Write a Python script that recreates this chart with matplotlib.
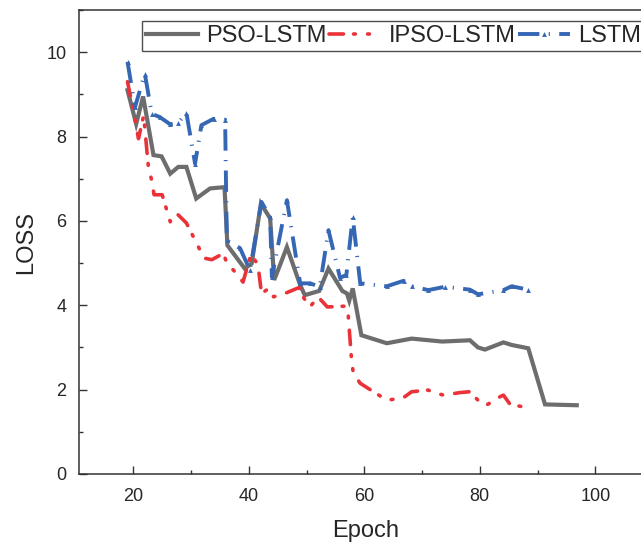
import matplotlib
matplotlib.use("Agg")
import matplotlib.pyplot as plt
from matplotlib.ticker import MultipleLocator

plt.rcParams['font.family'] = ['Liberation Sans', 'DejaVu Sans']

# ---- data ----
pso_epoch = [19.0, 20.5, 21.7, 23.5, 24.9, 26.4, 27.8, 29.2, 30.9, 33.3, 35.8, 36.3,
             39.3, 40.5, 42.1, 43.7, 44.4, 45.4, 46.6, 48.9, 49.7, 52.2, 53.8, 56.2,
             57.0, 57.4, 58.0, 59.5, 63.9, 68.2, 73.5, 78.3, 79.7, 80.9, 84.1, 85.5,
             88.4, 91.3, 96.8]
pso_loss = [9.10, 8.30, 8.95, 7.56, 7.53, 7.12, 7.28, 7.28, 6.53, 6.77, 6.80, 5.42,
            4.87, 4.99, 6.41, 6.06, 4.60, 4.95, 5.38, 4.48, 4.24, 4.34, 4.87, 4.34,
            4.28, 4.11, 4.40, 3.29, 3.10, 3.21, 3.14, 3.17, 3.00, 2.95, 3.12, 3.06,
            2.98, 1.65, 1.63]

ipso_epoch = [19.0, 20.0, 20.9, 21.8, 22.6, 23.2, 23.6, 25.0, 26.4, 27.5, 29.2, 31.3,
              32.2, 33.6, 35.6, 36.2, 37.9, 39.0, 40.4, 41.6, 42.2, 43.5, 44.3, 46.6,
              48.7, 49.4, 50.6, 52.0, 53.6, 56.8, 57.2, 57.5, 57.8, 58.1, 59.3, 61.6,
              63.9, 66.7, 68.2, 71.1, 71.6, 73.7, 76.6, 78.2, 79.7, 81.0, 83.5, 84.1,
              85.2, 87.5, 88.4]
ipso_loss = [9.30, 8.62, 7.95, 8.50, 7.30, 6.95, 6.62, 6.62, 5.98, 6.18, 5.95, 5.38,
             5.12, 5.08, 5.23, 5.00, 4.75, 4.55, 5.22, 4.95, 4.28, 4.40, 4.20, 4.30,
             4.42, 4.20, 3.96, 4.20, 3.96, 3.98, 3.80, 3.25, 2.70, 2.39, 2.15, 1.95,
             1.75, 1.80, 1.95, 1.99, 1.95, 1.87, 1.93, 1.95, 1.75, 1.62, 1.83, 1.87,
             1.66, 1.59, 1.56]

lstm_epoch = [19.0, 20.3, 22.0, 23.2, 24.6, 26.4, 27.8, 29.2, 30.7, 31.8, 33.9, 35.9,
              36.2, 38.5, 40.2, 42.2, 43.7, 44.0, 46.6, 48.9, 50.6, 52.3, 53.8, 55.8,
              56.9, 58.0, 59.3, 63.9, 66.8, 68.2, 71.1, 74.0, 78.3, 79.7, 84.1, 85.5,
              88.4]
lstm_loss = [9.77, 8.70, 9.49, 8.54, 8.46, 8.29, 8.33, 8.56, 7.36, 8.27, 8.42, 8.40,
             5.54, 5.35, 4.83, 6.45, 6.09, 4.67, 6.49, 4.52, 4.52, 4.44, 5.78, 4.65,
             4.72, 6.09, 4.52, 4.45, 4.58, 4.45, 4.36, 4.44, 4.37, 4.26, 4.36, 4.45,
             4.37]

labels = ["PSO-LSTM", "IPSO-LSTM", "LSTM"]
x_ticks = [20, 40, 60, 80, 100]
y_ticks = [0, 2, 4, 6, 8, 10]

W, H = 641, 542
fig = plt.figure(figsize=(W / 100, H / 100), dpi=100)
L, R, T, B = 79, 653, 10, 474
ax = fig.add_axes([L / W, 1 - B / H, (R - L) / W, (B - T) / H])

gray = '#6d6d6d'
red = '#ea3238'
blue = '#3567b5'

ax.plot(pso_epoch, pso_loss, color=gray, lw=3.0, solid_joinstyle='miter', label=labels[0])
ax.plot(ipso_epoch, ipso_loss, color=red, lw=2.6,
        linestyle=(0, (4.0, 2.8, 0.5, 3.4, 0.5, 3.4)), dash_capstyle='round', label=labels[1])
ax.plot(lstm_epoch, lstm_loss, color=blue, lw=2.8,
        linestyle=(0, (5.5, 2.4, 0.3, 2.4)), marker='^', markersize=3.5,
        markeredgewidth=0, label=labels[2])

ax.set_xlim(10.6, 110)
ax.set_ylim(0, 11)
ax.set_xticks(x_ticks)
ax.set_yticks(y_ticks)
ax.xaxis.set_minor_locator(MultipleLocator(10))
ax.yaxis.set_minor_locator(MultipleLocator(1))

txt = '#262626'
ax.tick_params(which='major', direction='in', length=6, width=1.0, labelsize=13,
               pad=9, colors='#333333', labelcolor=txt, top=False, right=False)
ax.tick_params(axis='x', which='major', pad=10)
ax.tick_params(which='minor', direction='in', length=3, width=1.0,
               colors='#333333', top=False, right=False)
for s in ax.spines.values():
    s.set_linewidth(1.1)
    s.set_color('#333333')

ax.set_xlabel('Epoch', fontsize=17, color=txt, labelpad=11)
ax.set_ylabel('LOSS', fontsize=17, color=txt, labelpad=7)

leg = ax.legend(loc='upper left', bbox_to_anchor=(141.5 / W, 1 - 20.7 / H),
                bbox_transform=fig.transFigure, ncol=3, fontsize=17,
                frameon=True, fancybox=False, borderaxespad=0, borderpad=0.18,
                handlelength=2.2, handletextpad=0.35, columnspacing=0.1,
                labelcolor=txt)
leg.get_frame().set_edgecolor('#222222')
leg.get_frame().set_linewidth(1.0)

fig.savefig('out.png', dpi=100)
